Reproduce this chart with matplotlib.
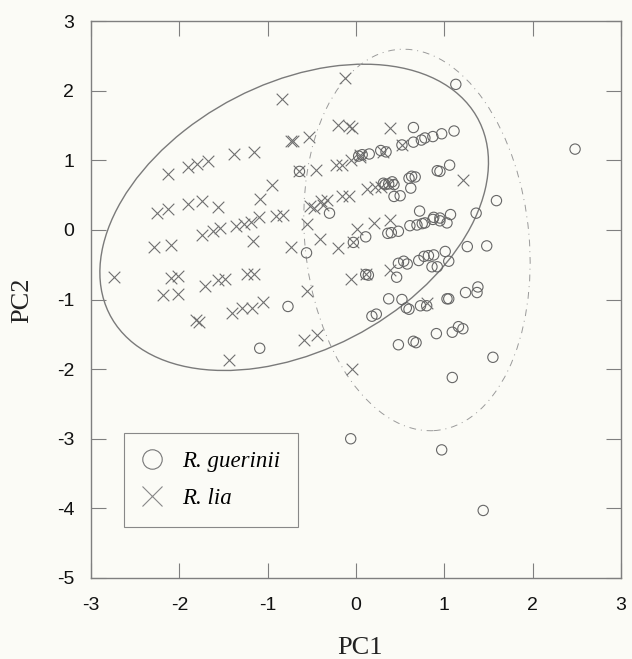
"""
PCA scatter of R. guerinii vs R. lia (PC1 / PC2) with confidence ellipses.
"""

import matplotlib
matplotlib.use("Agg")
import matplotlib.pyplot as plt
from matplotlib.lines import Line2D
from matplotlib.patches import Ellipse

BG = "#fbfbf6"
AX_COLOR = "#7f7f7f"

# ── Data ──────────────────────────────────────────────────────────────────────

guerinii_pc1 = [
    0.03, 0.07, 0.15, 0.28, 0.34, 0.52, 0.65, 0.74, 0.78, 0.87, 0.97, 1.11,
    0.65, 1.13, 2.48,
    -0.64, 0.31, 0.37, 0.41, 0.33, 0.43, 0.60, 0.63, 0.67, 0.62, 0.92, 0.95,
    1.06, 0.43, 0.50, 1.59,
    -0.30, 0.72, 0.36, 0.40, 0.48, 0.61, 0.69, 0.75, 0.78, 0.87, 0.88, 0.95,
    0.95, 1.03, 1.07, 1.36,
    -0.03, 0.11, -0.56, 0.11, 0.14, 0.46, 0.48, 0.54, 0.58, 0.71, 0.77, 0.82,
    0.88, 0.86, 0.92, 1.01, 1.05, 1.26, 1.48,
    -0.77, 0.18, 0.23, 0.37, 0.52, 0.57, 0.60, 0.73, 0.80, 1.03, 1.05, 1.24,
    1.38, 1.37,
    -1.09, 0.48, 0.65, 0.68, 0.91, 1.09, 1.16, 1.21, 1.55, 1.09, -0.06, 0.97,
    1.44,
]
guerinii_pc2 = [
    1.06, 1.08, 1.09, 1.14, 1.12, 1.22, 1.26, 1.29, 1.32, 1.34, 1.38, 1.42,
    1.47, 2.09, 1.16,
    0.84, 0.67, 0.66, 0.69, 0.65, 0.65, 0.74, 0.77, 0.76, 0.60, 0.85, 0.84,
    0.93, 0.48, 0.49, 0.42,
    0.24, 0.27, -0.05, -0.04, -0.02, 0.06, 0.07, 0.09, 0.10, 0.15, 0.18, 0.17,
    0.13, 0.10, 0.22, 0.24,
    -0.18, -0.10, -0.33, -0.64, -0.65, -0.68, -0.48, -0.45, -0.49, -0.44,
    -0.38, -0.37, -0.36, -0.53, -0.53, -0.31, -0.45, -0.24, -0.23,
    -1.10, -1.24, -1.21, -0.99, -1.00, -1.12, -1.14, -1.09, -1.09, -0.99,
    -0.99, -0.90, -0.82, -0.90,
    -1.70, -1.65, -1.60, -1.62, -1.49, -1.47, -1.39, -1.42, -1.83, -2.12,
    -3.00, -3.16, -4.03,
]

lia_pc1 = [
    -0.12, -0.84, -0.20, -0.08, -0.05, -0.74, -0.71, -0.53, 0.38, -1.16,
    -1.38, -1.67, -1.80, -1.90, -2.13, -0.23, -0.16, -0.06, 0.05, 0.04,
    0.52, 0.31, -0.64, -0.45, 1.21, -0.95, -1.09, -1.74, -1.90, -1.56,
    -2.13, -2.25, -1.10, -1.19, -1.27, -1.36, -0.91, -0.83, -1.54, -1.62,
    -1.74, -0.40, -0.33, -0.37, -0.48, -0.52, -0.16, -0.08, 0.12, 0.22,
    0.28, 0.37, -0.56, -0.41, 0.01, 0.20, 0.38, -0.03, -1.17, -0.74,
    -2.29, -2.10, -0.20, -2.74, -2.10, -2.01, -1.71, -1.56, -1.48, -1.23,
    -1.16, -0.06, 0.11, -2.18, -2.01, -0.56, 0.39, -1.40, -1.29, -1.18,
    -1.05, -1.81, -1.78, -0.59, -0.44, -1.44, -0.05, 0.80,
]
lia_pc2 = [
    2.18, 1.88, 1.51, 1.49, 1.46, 1.28, 1.27, 1.34, 1.46, 1.12,
    1.09, 0.99, 0.95, 0.91, 0.80, 0.93, 0.93, 1.00, 1.05, 1.08,
    1.22, 1.12, 0.84, 0.86, 0.72, 0.65, 0.44, 0.41, 0.37, 0.33,
    0.30, 0.24, 0.18, 0.12, 0.09, 0.05, 0.20, 0.22, 0.02, -0.02,
    -0.07, 0.41, 0.43, 0.36, 0.31, 0.34, 0.48, 0.49, 0.59, 0.61,
    0.62, 0.66, 0.09, -0.13, 0.01, 0.10, 0.14, -0.18, -0.16, -0.24,
    -0.25, -0.22, -0.26, -0.68, -0.69, -0.66, -0.80, -0.72, -0.71, -0.63,
    -0.63, -0.71, -0.64, -0.93, -0.92, -0.88, -0.57, -1.19, -1.12, -1.12,
    -1.03, -1.30, -1.32, -1.58, -1.51, -1.87, -2.00, -1.05,
]

# ellipse: centre x, centre y, width, height, angle (data units)
lia_ellipse = (-0.70, 0.18, 5.13, 3.52, 45.0)
guerinii_ellipse = (0.69, -0.145, 2.54, 5.49, 4.0)

x_ticks = [-3, -2, -1, 0, 1, 2, 3]
y_ticks = [-5, -4, -3, -2, -1, 0, 1, 2, 3]


# ── Plot ──────────────────────────────────────────────────────────────────────

fig = plt.figure(figsize=(6.32, 6.59), dpi=100)
fig.patch.set_facecolor(BG)
ax = fig.add_axes([91 / 632, 1 - 578 / 659, 530 / 632, 557 / 659])
ax.set_facecolor(BG)

cx, cy, w, h, ang = lia_ellipse
ax.add_patch(Ellipse((cx, cy), w, h, angle=ang, fill=False,
                     edgecolor="#7a7a7a", linewidth=1.0, zorder=1))
cx, cy, w, h, ang = guerinii_ellipse
ax.add_patch(Ellipse((cx, cy), w, h, angle=ang, fill=False,
                     edgecolor="#9a9a9a", linewidth=0.7,
                     linestyle=(0, (7, 5, 1, 5)), zorder=1))

ax.scatter(guerinii_pc1, guerinii_pc2, s=55, marker="o", facecolors="none",
           edgecolors="#666666", linewidths=0.8, zorder=3)
ax.scatter(lia_pc1, lia_pc2, s=70, marker="x", color="#707070",
           linewidths=0.8, zorder=2)

ax.set_xlim(-3, 3)
ax.set_ylim(-5, 3)
ax.set_xticks(x_ticks)
ax.set_yticks(y_ticks)
ax.set_xticklabels([str(t) for t in x_ticks])
ax.set_yticklabels([str(t) for t in y_ticks])
ax.tick_params(direction="in", length=11, width=0.8, color=AX_COLOR,
               top=True, right=True, labelsize=14, labelcolor="#111111")
ax.tick_params(axis="x", pad=14)
ax.tick_params(axis="y", pad=12)
for lab in ax.get_xticklabels() + ax.get_yticklabels():
    lab.set_family("Liberation Sans")
for spine in ax.spines.values():
    spine.set_color(AX_COLOR)
    spine.set_linewidth(1.0)

fig.text(360 / 632, 1 - 648 / 659, "PC1", ha="center", va="center",
         family="Liberation Serif", fontsize=19, color="#222222")
fig.text(22 / 632, 1 - 300 / 659, "PC2", ha="center", va="center",
         rotation=90, family="Liberation Serif", fontsize=19, color="#222222")

handles = [
    Line2D([], [], linestyle="None", marker="o", markersize=14,
           markerfacecolor="none", markeredgecolor="#777777",
           markeredgewidth=0.8),
    Line2D([], [], linestyle="None", marker="x", markersize=14,
           color="#888888", markeredgewidth=0.8),
]
leg = ax.legend(handles, ["R. guerinii", "R. lia"],
                loc="upper left", bbox_to_anchor=(0.062, 0.260),
                borderaxespad=0, frameon=True, fancybox=False,
                borderpad=0.77, labelspacing=0.7, handlelength=0.9,
                handletextpad=0.86,
                prop={"family": "Liberation Serif", "style": "italic",
                      "size": 16.5})
leg.get_frame().set_facecolor(BG)
leg.get_frame().set_edgecolor("#888888")
leg.get_frame().set_linewidth(0.8)
leg.get_frame().set_alpha(1.0)

fig.savefig("out.png", dpi=100, facecolor=BG)
plt.close(fig)
